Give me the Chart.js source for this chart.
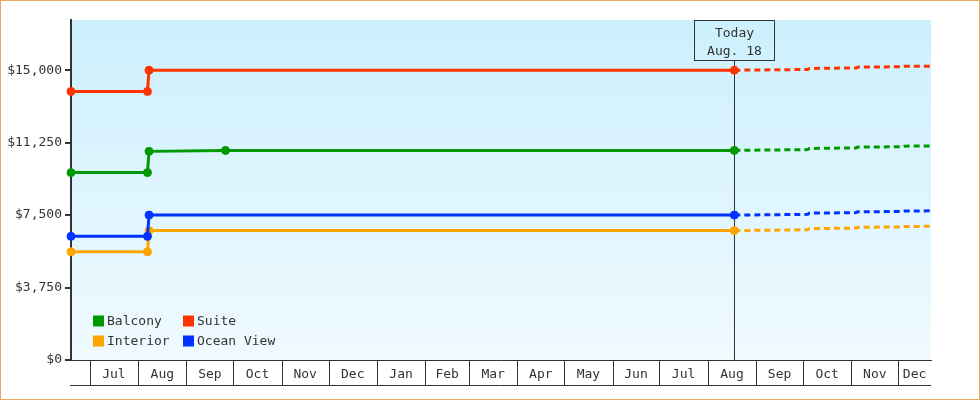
<!DOCTYPE html>
<html>
<head>
<meta charset="utf-8">
<script src="https://cdn.jsdelivr.net/npm/chart.js@4.4.1/dist/chart.umd.min.js"></script>
<style>
  body { margin: 0; background: #fff; }
  #wrap { width: 978px; height: 398px; border: 1px solid #e9a863; position: relative; }
</style>
</head>
<body>
<div id="wrap"><canvas id="priceChart"></canvas></div>
<script>
// Series
const seriesNames = ['Balcony', 'Suite', 'Interior', 'Ocean View'];
const seriesColors = ['#009900', '#ff3300', '#ffa500', '#0033ff'];

// Price history (solid lines)
const balconyDates = ['2018-06-19', '2018-08-07', '2018-08-08', '2018-09-26', '2019-08-18'];
const balconyPrices = [9700, 9700, 10800, 10850, 10850];
const sharedDates = ['2018-06-19', '2018-08-07', '2018-08-08', '2019-08-18'];
const suitePrices = [13900, 13900, 15000, 15000];
const interiorPrices = [5600, 5600, 6700, 6700];
const oceanPrices = [6400, 6400, 7500, 7500];

// Forecast (dashed lines)
const forecastDates = ['2019-08-18', '2019-10-04', '2019-10-05', '2019-11-04', '2019-11-05', '2019-12-04', '2019-12-05', '2019-12-22'];
const balconyForecast = [10850, 10890, 10950, 10980, 11020, 11040, 11070, 11080];
const suiteForecast = [15000, 15040, 15090, 15120, 15160, 15180, 15200, 15210];
const interiorForecast = [6700, 6740, 6800, 6830, 6870, 6890, 6910, 6920];
const oceanForecast = [7500, 7540, 7600, 7630, 7670, 7690, 7710, 7720];

// Axes
const xMinDate = '2018-06-19';
const xMaxDate = '2019-12-22';
const monthStarts = ['2018-07-01', '2018-08-01', '2018-09-01', '2018-10-01', '2018-11-01', '2018-12-01',
  '2019-01-01', '2019-02-01', '2019-03-01', '2019-04-01', '2019-05-01', '2019-06-01',
  '2019-07-01', '2019-08-01', '2019-09-01', '2019-10-01', '2019-11-01', '2019-12-01'];
const monthNames = ['Jul', 'Aug', 'Sep', 'Oct', 'Nov', 'Dec', 'Jan', 'Feb', 'Mar',
  'Apr', 'May', 'Jun', 'Jul', 'Aug', 'Sep', 'Oct', 'Nov', 'Dec'];
const yTicks = [0, 3750, 7500, 11250, 15000];
const yMax = 17600;

const todayDate = '2019-08-18';
const todayLabel = ['Today', 'Aug. 18'];

const day = s => Date.parse(s) / 864e5;
const FONT = '"DejaVu Sans Mono", monospace';
const INK = '#333';

Chart.defaults.font.family = FONT;
Chart.defaults.font.size = 13;
Chart.defaults.color = INK;

const history = [
  [balconyDates, balconyPrices],
  [sharedDates, suitePrices],
  [sharedDates, interiorPrices],
  [sharedDates, oceanPrices]
];
const forecasts = [balconyForecast, suiteForecast, interiorForecast, oceanForecast];
const drawOrder = [1, 2, 4, 3]; // ocean view sits over interior

const toPoints = (dates, values) => dates.map((d, i) => ({ x: day(d), y: values[i] }));

const datasets = [];
seriesNames.forEach((name, i) => {
  datasets.push({
    label: name,
    data: toPoints(history[i][0], history[i][1]),
    borderColor: seriesColors[i],
    backgroundColor: seriesColors[i],
    pointBackgroundColor: seriesColors[i],
    pointBorderColor: seriesColors[i],
    borderWidth: 3,
    pointRadius: 4,
    pointBorderWidth: 1,
    clip: false,
    order: drawOrder[i]
  });
});
seriesNames.forEach((name, i) => {
  datasets.push({
    label: name + ' forecast',
    isForecast: true,
    data: toPoints(forecastDates, forecasts[i]),
    borderColor: seriesColors[i],
    backgroundColor: seriesColors[i],
    borderWidth: 3,
    borderDash: [6, 4],
    pointRadius: 0,
    order: drawOrder[i] + 4
  });
});

// month cell midpoints (last cell cut at the axis end)
const monthMids = monthStarts.map((m, i) => {
  const end = i + 1 < monthStarts.length ? day(monthStarts[i + 1]) : day(xMaxDate);
  return (day(m) + Math.min(end, day(xMaxDate))) / 2;
});

const plotBackground = {
  id: 'plotBackground',
  beforeDraw(chart) {
    const { ctx, chartArea: a } = chart;
    const g = ctx.createLinearGradient(0, a.top, 0, a.bottom);
    g.addColorStop(0, '#ccf0fd');
    g.addColorStop(1, '#f0faff');
    ctx.save();
    ctx.fillStyle = g;
    ctx.fillRect(a.left, a.top, a.right - a.left, a.bottom - a.top);
    ctx.restore();
  }
};

const monthCells = {
  id: 'monthCells',
  afterDraw(chart) {
    const { ctx, chartArea: a } = chart;
    const xs = chart.scales.x;
    const bottom = a.bottom + 25;
    ctx.save();
    ctx.strokeStyle = INK;
    ctx.lineWidth = 1;
    ctx.beginPath();
    monthStarts.forEach(m => {
      const x = Math.round(xs.getPixelForValue(day(m))) + 0.5;
      ctx.moveTo(x, a.bottom);
      ctx.lineTo(x, bottom);
    });
    ctx.moveTo(a.left - 1, bottom + 0.5);
    ctx.lineTo(a.right, bottom + 0.5);
    ctx.stroke();
    ctx.restore();
  }
};

const todayMarker = {
  id: 'todayMarker',
  beforeDatasetsDraw(chart) {
    const { ctx, chartArea: a } = chart;
    const x = Math.round(chart.scales.x.getPixelForValue(day(todayDate))) + 0.5;
    ctx.save();
    ctx.strokeStyle = INK;
    ctx.lineWidth = 1;
    ctx.beginPath();
    ctx.moveTo(x, a.top + 40);
    ctx.lineTo(x, a.bottom);
    ctx.stroke();
    ctx.strokeRect(x - 40, a.top + 0.5, 80, 40);
    ctx.fillStyle = INK;
    ctx.font = '13px ' + FONT;
    ctx.textAlign = 'center';
    ctx.textBaseline = 'middle';
    ctx.fillText(todayLabel[0], x, a.top + 14);
    ctx.fillText(todayLabel[1], x, a.top + 32);
    ctx.restore();
  }
};

const insideLegend = {
  id: 'insideLegend',
  afterDraw(chart) {
    const { ctx, chartArea: a } = chart;
    const items = chart.data.datasets.filter(d => !d.isForecast);
    ctx.save();
    ctx.font = '13px ' + FONT;
    ctx.textBaseline = 'middle';
    ctx.textAlign = 'left';
    items.forEach((d, i) => {
      const bx = a.left + 22 + (i % 2) * 90;
      const cy = a.bottom - 39 + Math.floor(i / 2) * 20;
      ctx.fillStyle = d.borderColor;
      ctx.fillRect(bx, cy - 5.5, 11, 11);
      ctx.fillStyle = INK;
      ctx.fillText(d.label, bx + 14, cy + 1);
    });
    ctx.restore();
  }
};

const ctx = document.getElementById('priceChart').getContext('2d');
const priceChart = new Chart(ctx, {
  type: 'line',
  data: { datasets: datasets },
  options: {
    responsive: true,
    maintainAspectRatio: false,
    animation: false,
    events: [],
    layout: { padding: { top: 19, right: 48, left: 0, bottom: 0 } },
    plugins: {
      legend: { display: false },
      tooltip: { enabled: false }
    },
    scales: {
      x: {
        type: 'linear',
        min: day(xMinDate),
        max: day(xMaxDate),
        afterBuildTicks: scale => { scale.ticks = monthMids.map(v => ({ value: v })); },
        afterFit: scale => { scale.height = 39; },
        ticks: {
          autoSkip: false,
          maxRotation: 0,
          padding: 7,
          callback: (value, index) => monthNames[index]
        },
        grid: { display: true, drawOnChartArea: false, drawTicks: false },
        border: { display: true, color: INK, width: 1 }
      },
      y: {
        min: 0,
        max: yMax,
        afterBuildTicks: scale => { scale.ticks = yTicks.map(v => ({ value: v })); },
        afterFit: scale => { scale.width = 70; },
        ticks: {
          padding: 3,
          callback: value => '$' + value.toLocaleString('en-US')
        },
        grid: { drawOnChartArea: false, drawTicks: true, tickLength: 6, lineWidth: 2, color: INK },
        border: { display: true, color: INK, width: 2 }
      }
    }
  },
  plugins: [plotBackground, todayMarker, monthCells, insideLegend]
});
</script>
</body>
</html>
